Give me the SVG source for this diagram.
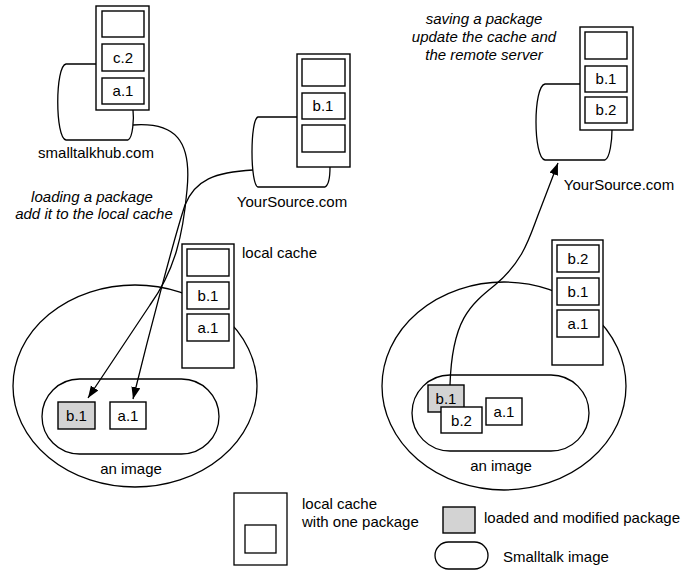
<svg xmlns="http://www.w3.org/2000/svg" width="683" height="571" viewBox="0 0 683 571">
<style>
text{font-family:"Liberation Sans",Arial,sans-serif;font-size:15px;fill:#000}
.it{font-style:italic}
.mid{text-anchor:middle}
.ln{fill:none;stroke:#000;stroke-width:1.3}
.cache{fill:#fff;stroke:#000;stroke-width:1.4}
.pkg{fill:#fff;stroke:#000;stroke-width:1.4}
.mod{fill:#d3d3d3;stroke:#000;stroke-width:1.4}
.conn{fill:none;stroke:#000;stroke-width:1.3}
</style>
<defs>
<marker id="ah" markerUnits="userSpaceOnUse" markerWidth="13" markerHeight="10" refX="12" refY="4.5" orient="auto">
<path d="M0,0 L12,4.5 L0,9 z" fill="#000"/>
</marker>
</defs>

<g id="smalltalkhub">
<path class="ln" d="M96,64 H66 C55,66 55,138 66,140 H128 C133,138 134,118 133,110"/>
<rect class="cache" x="96" y="6" width="53" height="104"/>
<rect class="pkg" x="102" y="11" width="42" height="26"/>
<rect class="pkg" x="102" y="44" width="42" height="27"/>
<text class="mid" x="123" y="63">c.2</text>
<rect class="pkg" x="102" y="78" width="42" height="26"/>
<text class="mid" x="123" y="96">a.1</text>
<text class="mid" x="96" y="158">smalltalkhub.com</text>
</g>

<g id="yoursource-left">
<path class="ln" d="M297,117 H258 C250,119 250,185 258,187 H325 C329,185 330,175 330,167"/>
<rect class="cache" x="297" y="54" width="53" height="113"/>
<rect class="pkg" x="302" y="59" width="43" height="27"/>
<rect class="pkg" x="302" y="93" width="43" height="26"/>
<text class="mid" x="323" y="111">b.1</text>
<rect class="pkg" x="302" y="125" width="43" height="27"/>
<text class="mid" x="292" y="207">YourSource.com</text>
</g>

<g id="loading-label">
<text class="it mid" x="92" y="202">loading a package</text>
<text class="it mid" x="94" y="219">add it to the local cache</text>
</g>

<g id="image-left">
<ellipse class="ln" cx="135" cy="386" rx="122" ry="101"/>
<rect class="cache" x="182" y="244" width="52" height="124"/>
<rect class="pkg" x="187" y="249" width="42" height="27"/>
<rect class="pkg" x="187" y="282" width="42" height="27"/>
<text class="mid" x="208" y="301">b.1</text>
<rect class="pkg" x="187" y="314" width="42" height="27"/>
<text class="mid" x="208" y="333">a.1</text>
<text x="242" y="258">local cache</text>
<rect class="ln" x="42" y="379" width="177" height="75" rx="37.5" ry="37.5"/>
<rect class="mod" x="58" y="402" width="37" height="27"/>
<text class="mid" x="76.5" y="421">b.1</text>
<rect class="pkg" x="110" y="402" width="36" height="27"/>
<text class="mid" x="128" y="421">a.1</text>
<text class="mid" x="131" y="474">an image</text>
</g>

<g id="saving-label">
<text class="it mid" x="484" y="24">saving a package</text>
<text class="it mid" x="484" y="42">update the cache and</text>
<text class="it mid" x="484" y="60">the remote server</text>
</g>

<g id="yoursource-right">
<path class="ln" d="M580,84 H545 C533,86 533,158 545,160 H605 C610,158 612,140 612,130"/>
<rect class="cache" x="580" y="27" width="53" height="103"/>
<rect class="pkg" x="585" y="32" width="42" height="27"/>
<rect class="pkg" x="585" y="66" width="42" height="26"/>
<text class="mid" x="606" y="84">b.1</text>
<rect class="pkg" x="585" y="97" width="42" height="26"/>
<text class="mid" x="606" y="115">b.2</text>
<text class="mid" x="619" y="190">YourSource.com</text>
</g>

<g id="image-right">
<ellipse class="ln" cx="504" cy="386" rx="122" ry="104"/>
<rect class="cache" x="552" y="240" width="51" height="125"/>
<rect class="pkg" x="557" y="245" width="42" height="27"/>
<text class="mid" x="578" y="264">b.2</text>
<rect class="pkg" x="557" y="278" width="42" height="27"/>
<text class="mid" x="578" y="297">b.1</text>
<rect class="pkg" x="557" y="310" width="42" height="27"/>
<text class="mid" x="578" y="329">a.1</text>
<rect class="ln" x="412" y="375" width="177" height="76" rx="38" ry="38"/>
<rect class="mod" x="428" y="385" width="36" height="27"/>
<text class="mid" x="446" y="404">b.1</text>
<rect class="pkg" x="441" y="407" width="41" height="26"/>
<text class="mid" x="461.5" y="426">b.2</text>
<rect class="pkg" x="486" y="398" width="36" height="27"/>
<text class="mid" x="504" y="417">a.1</text>
<text class="mid" x="501" y="471">an image</text>
</g>

<g id="connectors">
<path class="conn" marker-end="url(#ah)" d="M133,125 C175,122 192,140 187,190 C183,235 175,270 150,305 L88,398"/>
<path class="conn" marker-end="url(#ah)" d="M253,170 C215,172 195,180 185,205 C175,235 150,330 133,399"/>
<path class="conn" marker-end="url(#ah)" d="M450,385 C452,320 470,305 495,285 C525,260 530,235 540,210 L558,163"/>
</g>

<g id="legend">
<rect class="ln" x="234" y="493" width="53" height="72"/>
<rect class="ln" x="245" y="525" width="31" height="28"/>
<text x="302" y="509">local cache</text>
<text x="302" y="527">with one package</text>
<rect class="mod" x="443" y="507" width="32" height="26"/>
<text x="484" y="523">loaded and modified package</text>
<rect class="ln" x="435" y="542" width="53" height="27" rx="13.5" ry="13.5"/>
<text x="503" y="562">Smalltalk image</text>
</g>
</svg>
